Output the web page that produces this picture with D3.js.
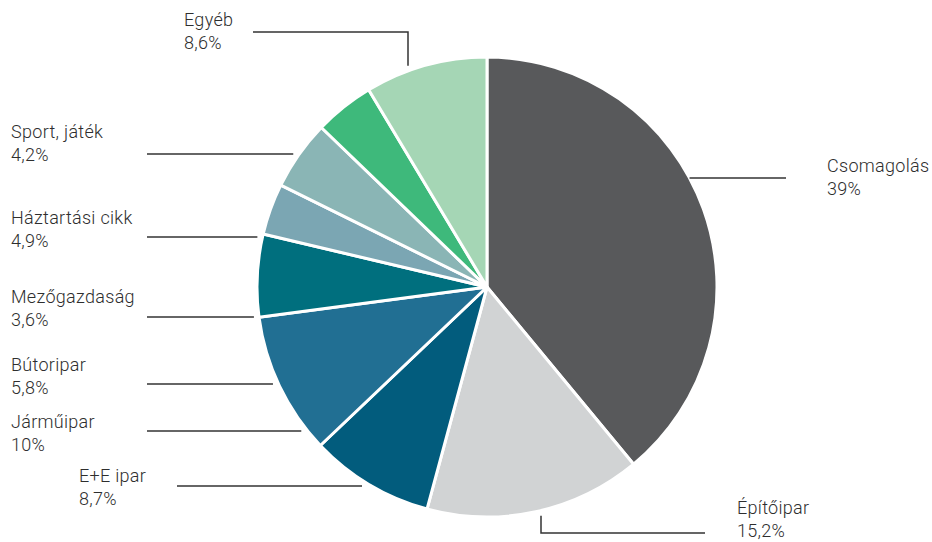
<!DOCTYPE html>
<html lang="hu">
<head>
<meta charset="utf-8">
<script src="https://cdn.jsdelivr.net/npm/d3@7"></script>
<style>
  html, body { margin: 0; padding: 0; background: #ffffff; }
  svg { display: block; }
  .lbl { font-family: Roboto, "Open Sans", sans-serif; font-size: 18px; font-weight: 300; fill: #2e2e2e; letter-spacing: 0.3px; }
</style>
</head>
<body>
<svg id="chart" width="932" height="542"></svg>
<script>
// Sector shares, clockwise from 12 o'clock
const categories = ["Csomagolás", "Építőipar", "E+E ipar", "Járműipar", "Bútoripar",
                    "Mezőgazdaság", "Háztartási cikk", "Sport, játék", "Egyéb"];
const shares = [39, 15.2, 8.7, 10, 5.8, 3.6, 4.9, 4.2, 8.6];
const shareLabels = ["39%", "15,2%", "8,7%", "10%", "5,8%", "3,6%", "4,9%", "4,2%", "8,6%"];
const sliceColors = ["#58595b", "#d1d3d4", "#025c7d", "#216f93", "#006f7e",
                     "#7ba6b3", "#8ab5b5", "#3eb97b", "#a5d6b5"];

// Label placement: text origin, leader style
const labelLayout = [
  { tx: 827, ty: 172, kind: "right",  ly: 178, lx: 786 },
  { tx: 737, ty: 514, kind: "bottom", lx: 541, ly: 533, ex: 705 },
  { tx: 79,  ty: 482, kind: "left",   ly: 486, lx: 177 },
  { tx: 11,  ty: 428, kind: "left",   ly: 431, lx: 147 },
  { tx: 11,  ty: 371, kind: "left",   ly: 384, lx: 147 },
  { tx: 11,  ty: 303, kind: "left",   ly: 317, lx: 147 },
  { tx: 11,  ty: 224, kind: "left",   ly: 237, lx: 147 },
  { tx: 11,  ty: 138, kind: "left",   ly: 154, lx: 147 },
  { tx: 184, ty: 26,  kind: "top",    ly: 32,  lx: 253, ex: 408 }
];

const svg = d3.select("#chart");
const cx = 487, cy = 287, radius = 230, gap = 5;

const data = categories.map((name, i) => ({ name, value: shares[i], label: shareLabels[i], color: sliceColors[i], layout: labelLayout[i] }));

const pie = d3.pie().sort(null).value(d => d.value);
const arc = d3.arc().innerRadius(0).outerRadius(radius);

const g = svg.append("g").attr("transform", `translate(${cx},${cy})`);
g.selectAll("path.slice")
  .data(pie(data))
  .join("path")
  .attr("class", "slice")
  .attr("d", arc)
  .attr("fill", d => d.data.color)
  .attr("stroke", "#ffffff")
  .attr("stroke-width", 3)
  .attr("stroke-linejoin", "round");

// x on a circle of radius rr at a given y (left or right half)
const rimX = (y, rr, side) => cx + side * Math.sqrt(rr * rr - (y - cy) * (y - cy));
const rimY = (x, rr, side) => cy + side * Math.sqrt(rr * rr - (x - cx) * (x - cx));

const leaders = svg.append("g")
  .attr("fill", "none")
  .attr("stroke", "#333333")
  .attr("stroke-width", 1.5);

data.forEach(d => {
  const L = d.layout;
  let pts;
  if (L.kind === "left") {
    pts = [[L.lx, L.ly], [rimX(L.ly, radius + gap, -1), L.ly]];
  } else if (L.kind === "right") {
    pts = [[rimX(L.ly, radius, 1), L.ly], [L.lx, L.ly]];
  } else if (L.kind === "top") {
    pts = [[L.lx, L.ly], [L.ex, L.ly], [L.ex, rimY(L.ex, radius + gap, -1)]];
  } else {
    pts = [[L.lx, rimY(L.lx, radius + gap, 1)], [L.lx, L.ly], [L.ex, L.ly]];
  }
  leaders.append("path").attr("d", d3.line()(pts));
});

const labels = svg.append("g");
data.forEach(d => {
  const t = labels.append("text").attr("class", "lbl")
    .attr("x", d.layout.tx).attr("y", d.layout.ty);
  t.append("tspan").attr("x", d.layout.tx).text(d.name);
  t.append("tspan").attr("x", d.layout.tx).attr("dy", 23).text(d.label);
});
</script>
</body>
</html>
